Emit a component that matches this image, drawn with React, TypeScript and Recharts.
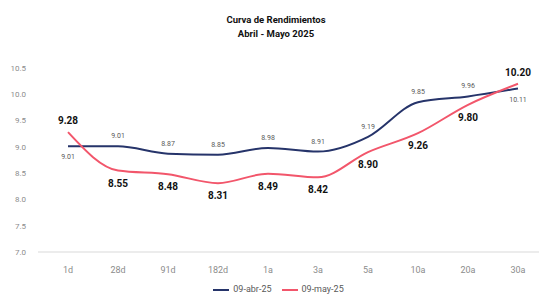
import { CartesianGrid, LabelList, Legend, Line, LineChart, XAxis, YAxis } from 'recharts'

const PLAZOS = ['1d', '28d', '91d', '182d', '1a', '3a', '5a', '10a', '20a', '30a']
const ABR_25 = [9.01, 9.01, 8.87, 8.85, 8.98, 8.91, 9.19, 9.85, 9.96, 10.11]
const MAY_25 = [9.28, 8.55, 8.48, 8.31, 8.49, 8.42, 8.90, 9.26, 9.80, 10.20]
const Y_TICKS = [7.0, 7.5, 8.0, 8.5, 9.0, 9.5, 10.0, 10.5]

// where each point label sits relative to its point
const ABR_LABEL_SIDE = ['below', 'above', 'above', 'above', 'above', 'above', 'above', 'above', 'above', 'below']
const MAY_LABEL_SIDE = ['above', 'below', 'below', 'below', 'below', 'below', 'below', 'below', 'below', 'above']

const BLUE = '#26346a'
const RED = '#f2566b'
const FONT = '"Liberation Sans Narrow", "Roboto", sans-serif'

const data = PLAZOS.map((plazo, i) => ({ plazo, abr: ABR_25[i], may: MAY_25[i] }))

function makeLabel(sides: string[], bold: boolean) {
  return (props: any) => {
    const { x, y, value, index } = props
    const below = sides[index] === 'below'
    return (
      <text
        x={x}
        y={below ? y + (bold ? 16 : 13) : y - (bold ? 8 : 8)}
        textAnchor="middle"
        fontSize={bold ? 10 : 7}
        fontWeight={bold ? 700 : 400}
        fill={bold ? '#111' : '#595959'}
        fontFamily={FONT}
      >
        {Number(value).toFixed(2)}
      </text>
    )
  }
}

export default function App() {
  return (
    <div style={{ position: 'absolute', left: 0, top: 0, width: 539, height: 306, background: '#fff', fontFamily: FONT }}>
      <div style={{ position: 'absolute', left: 0, top: 13, width: 552, textAlign: 'center', fontSize: 9.5, fontWeight: 700, lineHeight: '14px', color: '#111' }}>
        <div>Curva de Rendimientos</div>
        <div>Abril - Mayo 2025</div>
      </div>
      <LineChart width={539} height={306} data={data} margin={{ top: 68, right: 0, bottom: 0, left: 0 }}>
        <CartesianGrid horizontal={false} vertical={false} />
        <XAxis
          dataKey="plazo"
          height={30}
          padding={{ left: 30, right: 21 }}
          tick={{ fill: '#8c8c8c', fontSize: 9, fontFamily: FONT }}
          tickLine={false}
          axisLine={{ stroke: '#d9d9d9' }}
          tickMargin={9}
        />
        <YAxis
          width={38}
          domain={[7, 10.5]}
          ticks={Y_TICKS}
          tickFormatter={(v: number) => v.toFixed(1)}
          tick={{ fill: '#8c8c8c', fontSize: 8, fontFamily: FONT }}
          tickLine={false}
          axisLine={false}
          tickMargin={6}
        />
        <Legend
          height={24}
          verticalAlign="bottom"
          iconType="plainline"
          iconSize={16}
          wrapperStyle={{ fontSize: 9, fontFamily: FONT, paddingLeft: 14 }}
          formatter={(v: string) => <span style={{ color: '#595959' }}>{v}</span>}
        />
        <Line
          name="09-abr-25"
          type="monotone"
          dataKey="abr"
          stroke={BLUE}
          strokeWidth={2}
          dot={false}
          isAnimationActive={false}
        >
          <LabelList dataKey="abr" content={makeLabel(ABR_LABEL_SIDE, false)} />
        </Line>
        <Line
          name="09-may-25"
          type="monotone"
          dataKey="may"
          stroke={RED}
          strokeWidth={2}
          dot={false}
          isAnimationActive={false}
        >
          <LabelList dataKey="may" content={makeLabel(MAY_LABEL_SIDE, true)} />
        </Line>
      </LineChart>
    </div>
  )
}
